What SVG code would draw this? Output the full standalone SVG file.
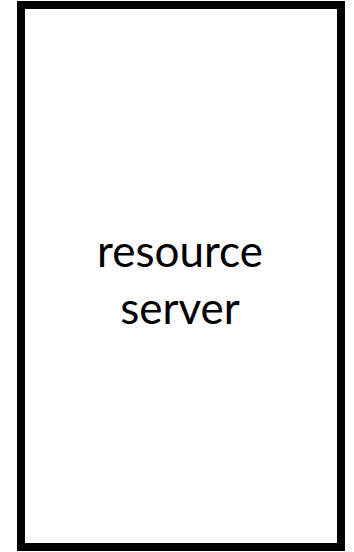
<svg xmlns="http://www.w3.org/2000/svg" width="354" height="552" viewBox="0 0 354 552">
<style>
.box{fill:#fff;stroke:#000;stroke-width:8}
.lbl{font-family:Lato,"Liberation Sans",sans-serif;font-size:44px;fill:#000;text-anchor:middle}
</style>
<rect width="354" height="552" fill="#fff"/>
<g id="resource-server">
<rect class="box" x="21" y="5" width="320" height="542"/>
<text class="lbl" x="180" y="267">resource</text>
<text class="lbl" x="180" y="324">server</text>
</g>
<g id="connectors"/>
</svg>
